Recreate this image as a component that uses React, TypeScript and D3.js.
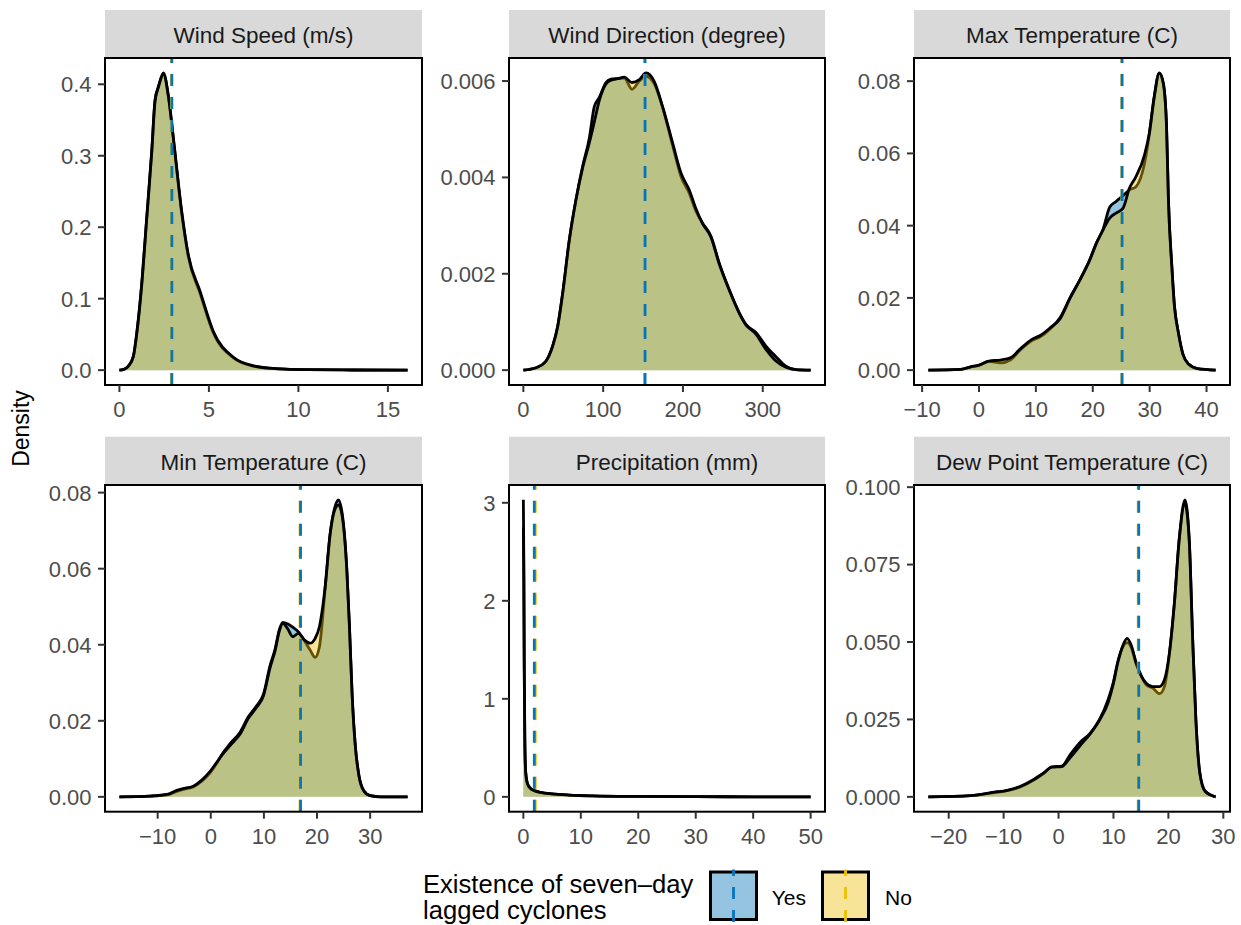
import React from 'react';
import * as d3 from 'd3';

type Pt = [number, number];

const panelTitles = [
  'Wind Speed (m/s)',
  'Wind Direction (degree)',
  'Max Temperature (C)',
  'Min Temperature (C)',
  'Precipitation (mm)',
  'Dew Point Temperature (C)',
];

const windSpeedYes: Pt[] = [
  [0, 0], [0.25, 0.001], [0.5, 0.0056], [0.78, 0.0195], [0.97, 0.052], [1.25, 0.122], [1.53, 0.215],
  [1.81, 0.308], [1.99, 0.378], [2.18, 0.397], [2.46, 0.416], [2.74, 0.382], [3.02, 0.322], [3.48, 0.22],
  [3.85, 0.159], [4.5, 0.108], [5.25, 0.052], [6.37, 0.017], [7.49, 0.0056], [8.79, 0.0019], [10.5, 0.0006],
  [13, 0.0002], [16.1, 0],
];
const windSpeedNo: Pt[] = [
  [0, 0], [0.25, 0.001], [0.5, 0.0055], [0.78, 0.019], [0.97, 0.051], [1.25, 0.12], [1.53, 0.213],
  [1.81, 0.306], [1.99, 0.376], [2.18, 0.396], [2.46, 0.414], [2.74, 0.383], [3.02, 0.324], [3.48, 0.222],
  [3.85, 0.161], [4.5, 0.111], [5.25, 0.054], [6.37, 0.018], [7.49, 0.006], [8.79, 0.002], [10.5, 0.0006],
  [13, 0.0002], [16.1, 0],
];

const windDirYes: Pt[] = [
  [0, 0], [15.9, 0.00005], [28.4, 0.00019], [36.7, 0.0005], [43, 0.00091], [49.3, 0.0016], [57.6, 0.0027],
  [66, 0.00354], [74.3, 0.00423], [82.7, 0.00482], [88.9, 0.00547], [95.2, 0.00566], [103.5, 0.00597],
  [109.8, 0.00604], [118.2, 0.00605], [126.5, 0.00606], [136.1, 0.00583], [145.3, 0.006], [153.7, 0.0061],
  [164.1, 0.00594], [174.5, 0.00545], [187.1, 0.00466], [197.5, 0.00402], [207.9, 0.00367], [216.3, 0.0033],
  [224.6, 0.00305], [235.1, 0.00278], [245.5, 0.00222], [258, 0.00167], [270.6, 0.00119], [278.9, 0.00095],
  [291.4, 0.00078], [304, 0.0005], [316.5, 0.00028], [329, 0.00008], [341.5, 0.00001], [360, 0],
];
const windDirNo: Pt[] = [
  [0, 0], [15.9, 0.00005], [28.4, 0.00019], [36.7, 0.0005], [43, 0.0009], [49.3, 0.0016], [57.6, 0.0027],
  [66, 0.00354], [74.3, 0.0042], [82.7, 0.00472], [88.9, 0.00515], [95.2, 0.0056], [103.5, 0.00594],
  [109.8, 0.00602], [118.2, 0.00605], [126.5, 0.00608], [136.1, 0.00597], [145.3, 0.00603], [153.7, 0.00617],
  [164.1, 0.00599], [174.5, 0.00547], [187.1, 0.00471], [197.5, 0.00409], [207.9, 0.00374], [216.3, 0.00335],
  [224.6, 0.00304], [235.1, 0.00276], [245.5, 0.0022], [258, 0.00166], [270.6, 0.00118], [278.9, 0.00094],
  [291.4, 0.00075], [304, 0.00043], [316.5, 0.00019], [329, 0.00006], [341.5, 0.00001], [360, 0],
];

const maxTempYes: Pt[] = [
  [-8.9, 0], [-3.2, 0.0002], [-1.45, 0.0009], [0, 0.0013], [1.74, 0.0024], [3.78, 0.002], [5.52, 0.0028],
  [7.27, 0.0056], [9.3, 0.0082], [10.76, 0.0092], [12.5, 0.0114], [14.24, 0.0145], [16, 0.02], [17.73, 0.025],
  [19.48, 0.0306], [20.64, 0.0352], [21.8, 0.0389], [22.97, 0.0451], [24.1, 0.0467], [25.3, 0.0483],
  [26.45, 0.0499], [27.6, 0.0508], [29.1, 0.0573], [29.94, 0.0652], [30.8, 0.0757], [31.69, 0.0823],
  [32.4, 0.0794], [32.97, 0.0674], [33.3, 0.0471], [33.9, 0.0287], [34.36, 0.0177], [35.06, 0.0103],
  [35.87, 0.0043], [36.9, 0.0016], [38.4, 0.0004], [41.6, 0],
];
const maxTempNo: Pt[] = [
  [-8.9, 0], [-3.2, 0.0002], [-1.45, 0.0009], [0, 0.0014], [1.74, 0.0025], [3.78, 0.0028], [5.52, 0.0034],
  [7.27, 0.0059], [9.3, 0.0085], [10.76, 0.0096], [12.5, 0.0117], [14.24, 0.0142], [16, 0.0199], [17.73, 0.0249],
  [19.48, 0.0305], [20.64, 0.0351], [21.8, 0.0388], [22.97, 0.0421], [24.1, 0.0435], [25.3, 0.0448],
  [26.45, 0.0504], [27.6, 0.0536], [29.1, 0.0596], [29.94, 0.0656], [30.8, 0.0755], [31.69, 0.0822],
  [32.4, 0.0794], [32.97, 0.0674], [33.3, 0.0471], [33.9, 0.0287], [34.36, 0.0177], [35.06, 0.0103],
  [35.87, 0.0043], [36.9, 0.0016], [38.4, 0.0004], [41.6, 0],
];

const minTempYes: Pt[] = [
  [-17.2, 0], [-11.4, 0.0002], [-8.0, 0.0006], [-6.4, 0.0014], [-4.8, 0.0021], [-3.3, 0.0026], [-1.7, 0.0041],
  [-0.13, 0.0063], [1.13, 0.0088], [2.07, 0.0111], [3.64, 0.014], [5.52, 0.017], [7.1, 0.0211], [8.66, 0.024],
  [9.92, 0.027], [11.17, 0.0346], [12.1, 0.0388], [12.93, 0.0441], [13.56, 0.0459], [14.44, 0.0455],
  [15.44, 0.0446], [16.5, 0.0434], [17.58, 0.0412], [18.7, 0.0386], [19.65, 0.0367], [20.46, 0.0395],
  [21.53, 0.0548], [22.47, 0.069], [23.29, 0.0758], [24.04, 0.0781], [24.86, 0.0732], [25.61, 0.0598],
  [26.1, 0.045], [26.6, 0.027], [27.2, 0.0135], [27.9, 0.0055], [28.8, 0.0016], [30, 0.0003], [32, 0], [37.05, 0],
];
const minTempNo: Pt[] = [
  [-17.2, 0], [-11.4, 0.0002], [-8.0, 0.0007], [-6.4, 0.0017], [-4.8, 0.0023], [-3.3, 0.0028], [-1.7, 0.0044],
  [-0.13, 0.0067], [1.13, 0.0091], [2.07, 0.0109], [3.64, 0.0135], [5.52, 0.0165], [7.1, 0.0207], [8.66, 0.0236],
  [9.92, 0.0266], [11.17, 0.034], [12.1, 0.0384], [12.93, 0.0437], [13.56, 0.0456], [14.44, 0.0443],
  [15.44, 0.0421], [16.5, 0.043], [17.58, 0.0413], [18.7, 0.0404], [19.65, 0.0417], [20.46, 0.0448],
  [21.53, 0.0552], [22.47, 0.0692], [23.29, 0.0753], [24.04, 0.0768], [24.86, 0.0727], [25.61, 0.0596],
  [26.1, 0.045], [26.6, 0.027], [27.2, 0.0135], [27.9, 0.0055], [28.8, 0.0016], [30, 0.0003], [32, 0], [37.05, 0],
];

const precipYes: Pt[] = [
  [0, 3.03], [0.08, 2.4], [0.15, 1.4], [0.25, 0.6], [0.4, 0.26], [0.7, 0.14], [1.2, 0.09], [2, 0.062],
  [3, 0.046], [5, 0.03], [8, 0.018], [12, 0.01], [20, 0.004], [30, 0.0015], [40, 0.0005], [50, 0],
];
const precipNo: Pt[] = [
  [0, 2.75], [0.08, 2.2], [0.15, 1.3], [0.25, 0.58], [0.4, 0.25], [0.7, 0.135], [1.2, 0.088], [2, 0.061],
  [3, 0.046], [5, 0.03], [8, 0.018], [12, 0.01], [20, 0.004], [30, 0.0015], [40, 0.0005], [50, 0],
];

const dewYes: Pt[] = [
  [-23.7, 0], [-16, 0.0004], [-11.75, 0.0014], [-9.34, 0.002], [-6.93, 0.0032], [-4.52, 0.0054], [-2.71, 0.0076],
  [-1.2, 0.0097], [0.6, 0.0099], [2.1, 0.0136], [3.9, 0.0176], [5.7, 0.0204], [7.5, 0.0251], [9.0, 0.0313],
  [9.94, 0.0367], [10.84, 0.044], [11.75, 0.0486], [12.47, 0.0498], [13.25, 0.0482], [14.16, 0.0428],
  [15.06, 0.039], [15.96, 0.0362], [17.17, 0.0351], [18.37, 0.0333], [19.28, 0.0356], [20.18, 0.046],
  [21.08, 0.0622], [21.99, 0.0835], [23.01, 0.0959], [23.8, 0.0828], [24.4, 0.0517], [25.0, 0.0249],
  [25.72, 0.0077], [26.69, 0.0018], [28.6, 0],
];
const dewNo: Pt[] = [
  [-23.7, 0], [-16, 0.0004], [-11.75, 0.0015], [-9.34, 0.0021], [-6.93, 0.0034], [-4.52, 0.0056], [-2.71, 0.0077],
  [-1.2, 0.0096], [0.6, 0.0098], [2.1, 0.0126], [3.9, 0.0165], [5.7, 0.0202], [7.5, 0.0249], [9.0, 0.0303],
  [9.94, 0.0362], [10.84, 0.0437], [11.75, 0.049], [12.47, 0.0512], [13.25, 0.0489], [14.16, 0.0431],
  [15.06, 0.0391], [15.96, 0.0367], [17.17, 0.0356], [18.37, 0.0356], [19.28, 0.0378], [20.18, 0.0464],
  [21.08, 0.0624], [21.99, 0.0835], [23.01, 0.0946], [23.8, 0.0825], [24.4, 0.0517], [25.0, 0.0249],
  [25.72, 0.0077], [26.69, 0.0018], [28.6, 0],
];

const yesSeries = [windSpeedYes, windDirYes, maxTempYes, minTempYes, precipYes, dewYes];
const noSeries = [windSpeedNo, windDirNo, maxTempNo, minTempNo, precipNo, dewNo];

const yesMeans = [2.93, 152.5, 25.15, 16.9, 1.9, 14.6];
const noMeans = [2.9, 152.0, 25.1, 16.8, 2.08, 14.5];

const xTicks = [
  [0, 5, 10, 15],
  [0, 100, 200, 300],
  [-10, 0, 10, 20, 30, 40],
  [-10, 0, 10, 20, 30],
  [0, 10, 20, 30, 40, 50],
  [-20, -10, 0, 10, 20, 30],
];
const yTicks = [
  [0, 0.1, 0.2, 0.3, 0.4],
  [0, 0.002, 0.004, 0.006],
  [0, 0.02, 0.04, 0.06, 0.08],
  [0, 0.02, 0.04, 0.06, 0.08],
  [0, 1, 2, 3],
  [0, 0.025, 0.05, 0.075, 0.1],
];
const yFormats = ['.1f', '.3f', '.2f', '.2f', 'd', '.3f'];

const legendLabels = ['Yes', 'No'];
const legendTitle = ['Existence of seven\u2013day', 'lagged cyclones'];

const YES_FILL = 'rgba(0,114,178,0.42)';
const NO_FILL = 'rgba(238,190,10,0.42)';
const YES_LINE = '#0575BE';
const NO_LINE = '#F0C000';
const FONT = '"Liberation Sans", Arial, Helvetica, sans-serif';

const colLeft = [105, 509, 914];
const colRight = [422, 825, 1230];
const stripTop = [10, 436.7];
const panelTop = [58, 485];
const panelBottom = [385, 811.7];

const fmtMinus = (s: string) => s.replace('-', '\u2212');

function Panel({ i }: { i: number }) {
  const col = i % 3;
  const row = Math.floor(i / 3);
  const x0 = colLeft[col];
  const x1 = colRight[col];
  const yTop = panelTop[row];
  const yBot = panelBottom[row];
  const yes = yesSeries[i];
  const no = noSeries[i];
  const all = yes.concat(no);
  const xmin = d3.min(all, (d) => d[0]) as number;
  const xmax = d3.max(all, (d) => d[0]) as number;
  const ymax = d3.max(all, (d) => d[1]) as number;
  const xr = xmax - xmin;
  const x = d3.scaleLinear().domain([xmin - 0.05 * xr, xmax + 0.05 * xr]).range([x0, x1]);
  const y = d3.scaleLinear().domain([-0.05 * ymax, ymax * 1.05]).range([yBot, yTop]);
  const curve = d3.curveMonotoneX;
  const area = d3.area<Pt>().x((d) => x(d[0])).y0(y(0)).y1((d) => y(d[1])).curve(curve);
  const line = d3.line<Pt>().x((d) => x(d[0])).y((d) => y(d[1])).curve(curve);
  const fy = d3.format(yFormats[i]);
  const sTop = stripTop[row];
  return (
    <g>
      <rect x={x0} y={sTop} width={x1 - x0} height={yTop - sTop} fill="#D9D9D9" />
      <text x={(x0 + x1) / 2} y={(sTop + yTop) / 2 + 9} textAnchor="middle" fontSize={22.5} fill="#1A1A1A">
        {panelTitles[i]}
      </text>
      <rect x={x0} y={yTop} width={x1 - x0} height={yBot - yTop} fill="#fff" />
      <path d={area(yes) || ''} fill={YES_FILL} />
      <path d={line(yes) || ''} fill="none" stroke="#000" strokeWidth={2.8} strokeLinejoin="round" />
      <path d={area(no) || ''} fill={NO_FILL} />
      <path d={line(no) || ''} fill="none" stroke="#000" strokeWidth={2.8} strokeLinejoin="round" />
      <line x1={x(noMeans[i])} x2={x(noMeans[i])} y1={yBot} y2={yTop} stroke={NO_LINE} strokeWidth={2.8} strokeDasharray="12 11" />
      <line x1={x(yesMeans[i])} x2={x(yesMeans[i])} y1={yBot} y2={yTop} stroke={YES_LINE} strokeWidth={2.8} strokeDasharray="12 11" />
      <rect x={x0} y={yTop} width={x1 - x0} height={yBot - yTop} fill="none" stroke="#000" strokeWidth={2} />
      {yTicks[i].map((t) => (
        <g key={'y' + t}>
          <line x1={x0 - 7} x2={x0} y1={y(t)} y2={y(t)} stroke="#333" strokeWidth={2} />
          <text x={x0 - 13.5} y={y(t)} dy="0.36em" textAnchor="end" fontSize={22} fill="#4D4D4D">
            {fy(t)}
          </text>
        </g>
      ))}
      {xTicks[i].map((t) => (
        <g key={'x' + t}>
          <line x1={x(t)} x2={x(t)} y1={yBot} y2={yBot + 7} stroke="#333" strokeWidth={2} />
          <text x={x(t)} y={yBot + 31.8} textAnchor="middle" fontSize={22} fill="#4D4D4D">
            {fmtMinus(String(t))}
          </text>
        </g>
      ))}
    </g>
  );
}

function Legend() {
  const keyX = [708.5, 820.5];
  const textX = [771.7, 885];
  const fills = [YES_FILL, NO_FILL];
  const lines = [YES_LINE, NO_LINE];
  return (
    <g>
      <text x={423} y={893.3} fontSize={25.6} fill="#000">{legendTitle[0]}</text>
      <text x={423} y={919} fontSize={25.6} fill="#000">{legendTitle[1]}</text>
      {legendLabels.map((lab, k) => (
        <g key={lab}>
          <rect x={keyX[k] + 2} y={872} width={46} height={47.5} fill="#fff" />
          <rect x={keyX[k] + 2} y={872} width={46} height={47.5} fill={fills[k]} stroke="#000" strokeWidth={3} />
          <line x1={keyX[k] + 25} x2={keyX[k] + 25} y1={922} y2={869.5} stroke={lines[k]} strokeWidth={2.8} strokeDasharray="12 11" />
          <text x={textX[k]} y={904.5} fontSize={21} fill="#000">{lab}</text>
        </g>
      ))}
    </g>
  );
}

export default function App() {
  return (
    <svg
      width={1241}
      height={925}
      style={{ position: 'absolute', left: 0, top: 0, background: '#fff' }}
      fontFamily={FONT}
    >
      <rect width={1241} height={925} fill="#fff" />
      {panelTitles.map((_, i) => (
        <Panel key={i} i={i} />
      ))}
      <text transform="translate(29.3,428.5) rotate(-90)" textAnchor="middle" fontSize={23} fill="#000">
        Density
      </text>
      <Legend />
    </svg>
  );
}
